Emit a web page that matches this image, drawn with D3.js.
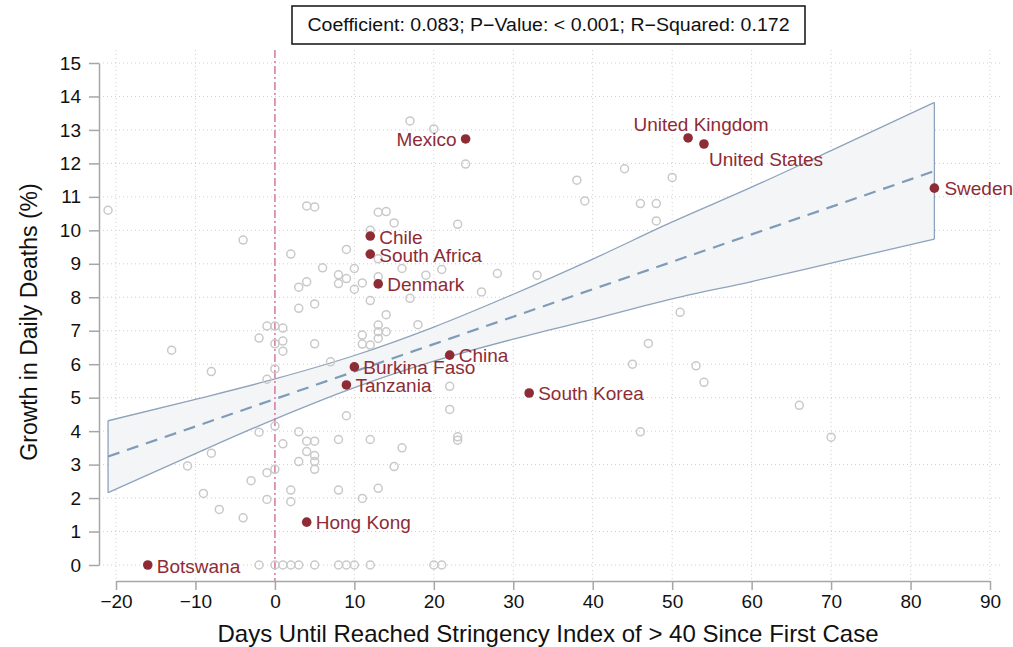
<!DOCTYPE html>
<html><head><meta charset="utf-8">
<script src="https://cdn.jsdelivr.net/npm/d3@7"></script>
<style>
body{margin:0;background:#fff;}
svg{display:block;font-family:"Liberation Sans",Arial,Helvetica,sans-serif;}
</style></head>
<body><svg id="c" width="1013" height="647"></svg>
<script>
// ---- data ----
const otherX = [-21,-13,-11,-9,-8,-8,-7,-4,-4,-3,-2,-2,-2,-1,-1,-1,-1,0,0,0,0,0,0,1,1,1,1,1,2,2,2,2,3,3,3,3,3,4,4,4,4,5,5,5,5,5,5,5,5,6,7,8,8,8,8,8,9,9,9,9,10,10,10,11,11,11,11,12,12,12,12,12,13,13,13,13,13,13,13,14,14,14,15,15,16,16,17,17,18,19,20,20,21,21,22,22,23,23,23,24,26,28,33,38,39,44,45,46,46,47,48,48,50,51,53,54,66,70];
const otherY = [10.6,6.42,2.96,2.14,5.78,3.34,1.66,9.71,1.41,2.52,6.78,3.97,0,7.14,5.55,2.76,1.96,7.14,6.61,5.86,4.15,2.86,0,7.08,6.69,6.39,3.62,0,9.29,2.24,1.89,0,8.3,7.67,3.98,3.09,0,10.73,8.46,3.7,3.39,10.7,7.8,6.61,3.7,3.27,3.09,2.86,0,8.88,6.07,8.67,8.41,3.75,2.24,0,9.43,8.56,4.46,0,8.86,8.24,0,8.43,6.87,6.6,1.99,10.0,7.9,6.57,3.75,0,10.54,9.15,8.61,7.17,6.97,6.77,2.29,10.56,7.48,6.97,10.22,2.94,8.86,3.5,13.27,7.97,7.18,8.66,13.03,0,8.83,0,5.34,4.65,10.18,3.83,3.73,11.98,8.16,8.71,8.66,11.5,10.88,11.84,6.0,10.8,3.98,6.62,10.8,10.28,11.58,7.55,5.95,5.46,4.77,3.82];
const countries = ["Botswana","Hong Kong","Tanzania","Burkina Faso","China","South Korea","Denmark","South Africa","Chile","Mexico","United Kingdom","United States","Sweden"];
const countryX = [-16,4,9,10,22,32,13,12,12,24,52,54,83];
const countryY = [0,1.28,5.38,5.92,6.27,5.14,8.4,9.29,9.83,12.73,12.76,12.58,11.26];
// fitted line and 95% CI
const fitX = [-21,-10,0,10,20,30,40,50,60,70,83];
const fitY = [3.24,4.14,4.96,5.78,6.60,7.42,8.24,9.06,9.88,10.70,11.77];
const ciLow = [2.16,3.33,4.36,5.30,6.09,6.75,7.34,7.95,8.47,9.02,9.74];
const ciHigh = [4.31,4.95,5.56,6.26,7.11,8.09,9.14,10.25,11.29,12.38,13.82];
const xTicks = [-20,-10,0,10,20,30,40,50,60,70,80,90];
const yTicks = [0,1,2,3,4,5,6,7,8,9,10,11,12,13,14,15];
const statText = "Coefficient: 0.083; P\u2212Value: < 0.001; R\u2212Squared: 0.172";

// ---- layout ----
const svg = d3.select("#c");
const x = d3.scaleLinear().domain([-20,90]).range([116,990]);
const y = d3.scaleLinear().domain([0,15]).range([565,63]);
const plotL = 99, plotR = 1003, plotT = 50, plotB = 581;
const red = "#8e2c36";

// grid
const g = svg.append("g");
g.selectAll(".hg").data(yTicks).join("line")
  .attr("x1",plotL).attr("x2",plotR).attr("y1",d=>y(d)).attr("y2",d=>y(d))
  .attr("stroke","#cfcfcf").attr("stroke-width",1).attr("stroke-dasharray","1,3");
g.selectAll(".vg").data(xTicks.filter(d=>d!==0)).join("line")
  .attr("y1",plotT).attr("y2",plotB).attr("x1",d=>x(d)).attr("x2",d=>x(d))
  .attr("stroke","#cfcfcf").attr("stroke-width",1).attr("stroke-dasharray","1,3");

// CI band
const band = fitX.map((v,i)=>({x:v,lo:ciLow[i],hi:ciHigh[i]}));
svg.append("path").datum(band)
  .attr("d", d3.area().x(d=>x(d.x)).y0(d=>y(d.lo)).y1(d=>y(d.hi)).curve(d3.curveMonotoneX))
  .attr("fill","#f4f5f7").attr("stroke","none");
["hi","lo"].forEach(k=>{
  svg.append("path").datum(band)
    .attr("d", d3.line().x(d=>x(d.x)).y(d=>y(d[k])).curve(d3.curveMonotoneX))
    .attr("fill","none").attr("stroke","#8ea3bb").attr("stroke-width",1.3);
});
[0, band.length-1].forEach(i=>{
  svg.append("line").attr("x1",x(band[i].x)).attr("x2",x(band[i].x))
    .attr("y1",y(band[i].lo)).attr("y2",y(band[i].hi))
    .attr("stroke","#8ea3bb").attr("stroke-width",1.3);
});

// vertical zero line
svg.append("line").attr("x1",x(0)).attr("x2",x(0)).attr("y1",plotT).attr("y2",plotB)
  .attr("stroke","#d47a9c").attr("stroke-width",1.5).attr("stroke-dasharray","8,3,2,3");

// fit line
svg.append("path").datum(fitX.map((v,i)=>[v,fitY[i]]))
  .attr("d", d3.line().x(d=>x(d[0])).y(d=>y(d[1])))
  .attr("fill","none").attr("stroke","#7f9bb8").attr("stroke-width",2.2).attr("stroke-dasharray","12,8");

// other points
svg.append("g").selectAll("circle").data(otherX.map((v,i)=>[v,otherY[i]])).join("circle")
  .attr("cx",d=>x(d[0])).attr("cy",d=>y(d[1])).attr("r",4)
  .attr("fill","none").attr("stroke","#c9c9c9").attr("stroke-width",1.5);

// highlighted
const lab = {
  "Botswana":{dx:9,dy:1,a:"start"},
  "Hong Kong":{dx:9,dy:0,a:"start"},
  "Tanzania":{dx:9,dy:0,a:"start"},
  "Burkina Faso":{dx:9,dy:0,a:"start"},
  "China":{dx:9,dy:0,a:"start"},
  "South Korea":{dx:9,dy:0,a:"start"},
  "Denmark":{dx:9,dy:0,a:"start"},
  "South Africa":{dx:9,dy:1,a:"start"},
  "Chile":{dx:9,dy:1,a:"start"},
  "Mexico":{dx:-9,dy:0,a:"end"},
  "United Kingdom":{dx:13,dy:-14,a:"middle"},
  "United States":{dx:5,dy:15,a:"start"},
  "Sweden":{dx:10,dy:0,a:"start"}
};
const hp = countries.map((c,i)=>({c,x:countryX[i],y:countryY[i]}));
const hg = svg.append("g");
hg.selectAll("circle").data(hp).join("circle")
  .attr("cx",d=>x(d.x)).attr("cy",d=>y(d.y)).attr("r",4.8).attr("fill",red);
hg.selectAll("text").data(hp).join("text")
  .attr("x",d=>x(d.x)+lab[d.c].dx).attr("y",d=>y(d.y)+lab[d.c].dy)
  .attr("dy","0.36em").attr("text-anchor",d=>lab[d.c].a)
  .attr("font-size",19).attr("fill",red).text(d=>d.c);

// axes
const ya = svg.append("g").attr("transform",`translate(${plotL},0)`)
  .call(d3.axisLeft(y).tickValues(yTicks).tickSize(10).tickSizeOuter(0).tickPadding(8).tickFormat(d3.format("d")));
const xa = svg.append("g").attr("transform",`translate(0,${plotB})`)
  .call(d3.axisBottom(x).tickValues(xTicks).tickSize(9).tickSizeOuter(0).tickPadding(5).tickFormat(d=>d<0?"\u2212"+Math.abs(d):d));
[ya,xa].forEach(a=>{
  a.selectAll("path,line").attr("stroke","#a6a6a6").attr("stroke-width",1.5);
  a.selectAll("text").attr("font-size",19).attr("fill","#111")
   .attr("font-family","'Liberation Sans',Arial,sans-serif");
});

// titles
svg.append("text").attr("x",548).attr("y",642).attr("text-anchor","middle")
  .attr("font-size",24).attr("fill","#111").text("Days Until Reached Stringency Index of > 40 Since First Case");
svg.append("text").attr("transform","translate(37,322) rotate(-90)").attr("text-anchor","middle")
  .attr("font-size",23).attr("fill","#111").text("Growth in Daily Deaths (%)");

// stat box
svg.append("rect").attr("x",292).attr("y",6).attr("width",513).attr("height",38)
  .attr("fill","#fff").attr("stroke","#111").attr("stroke-width",1.5);
svg.append("text").attr("x",548.5).attr("y",25).attr("dy","0.36em").attr("text-anchor","middle")
  .attr("font-size",18).attr("font-family","'Liberation Sans Narrow','Liberation Sans',Arial,sans-serif")
  .attr("textLength",482).attr("lengthAdjust","spacingAndGlyphs")
  .attr("fill","#111").text(statText);
</script></body></html>
